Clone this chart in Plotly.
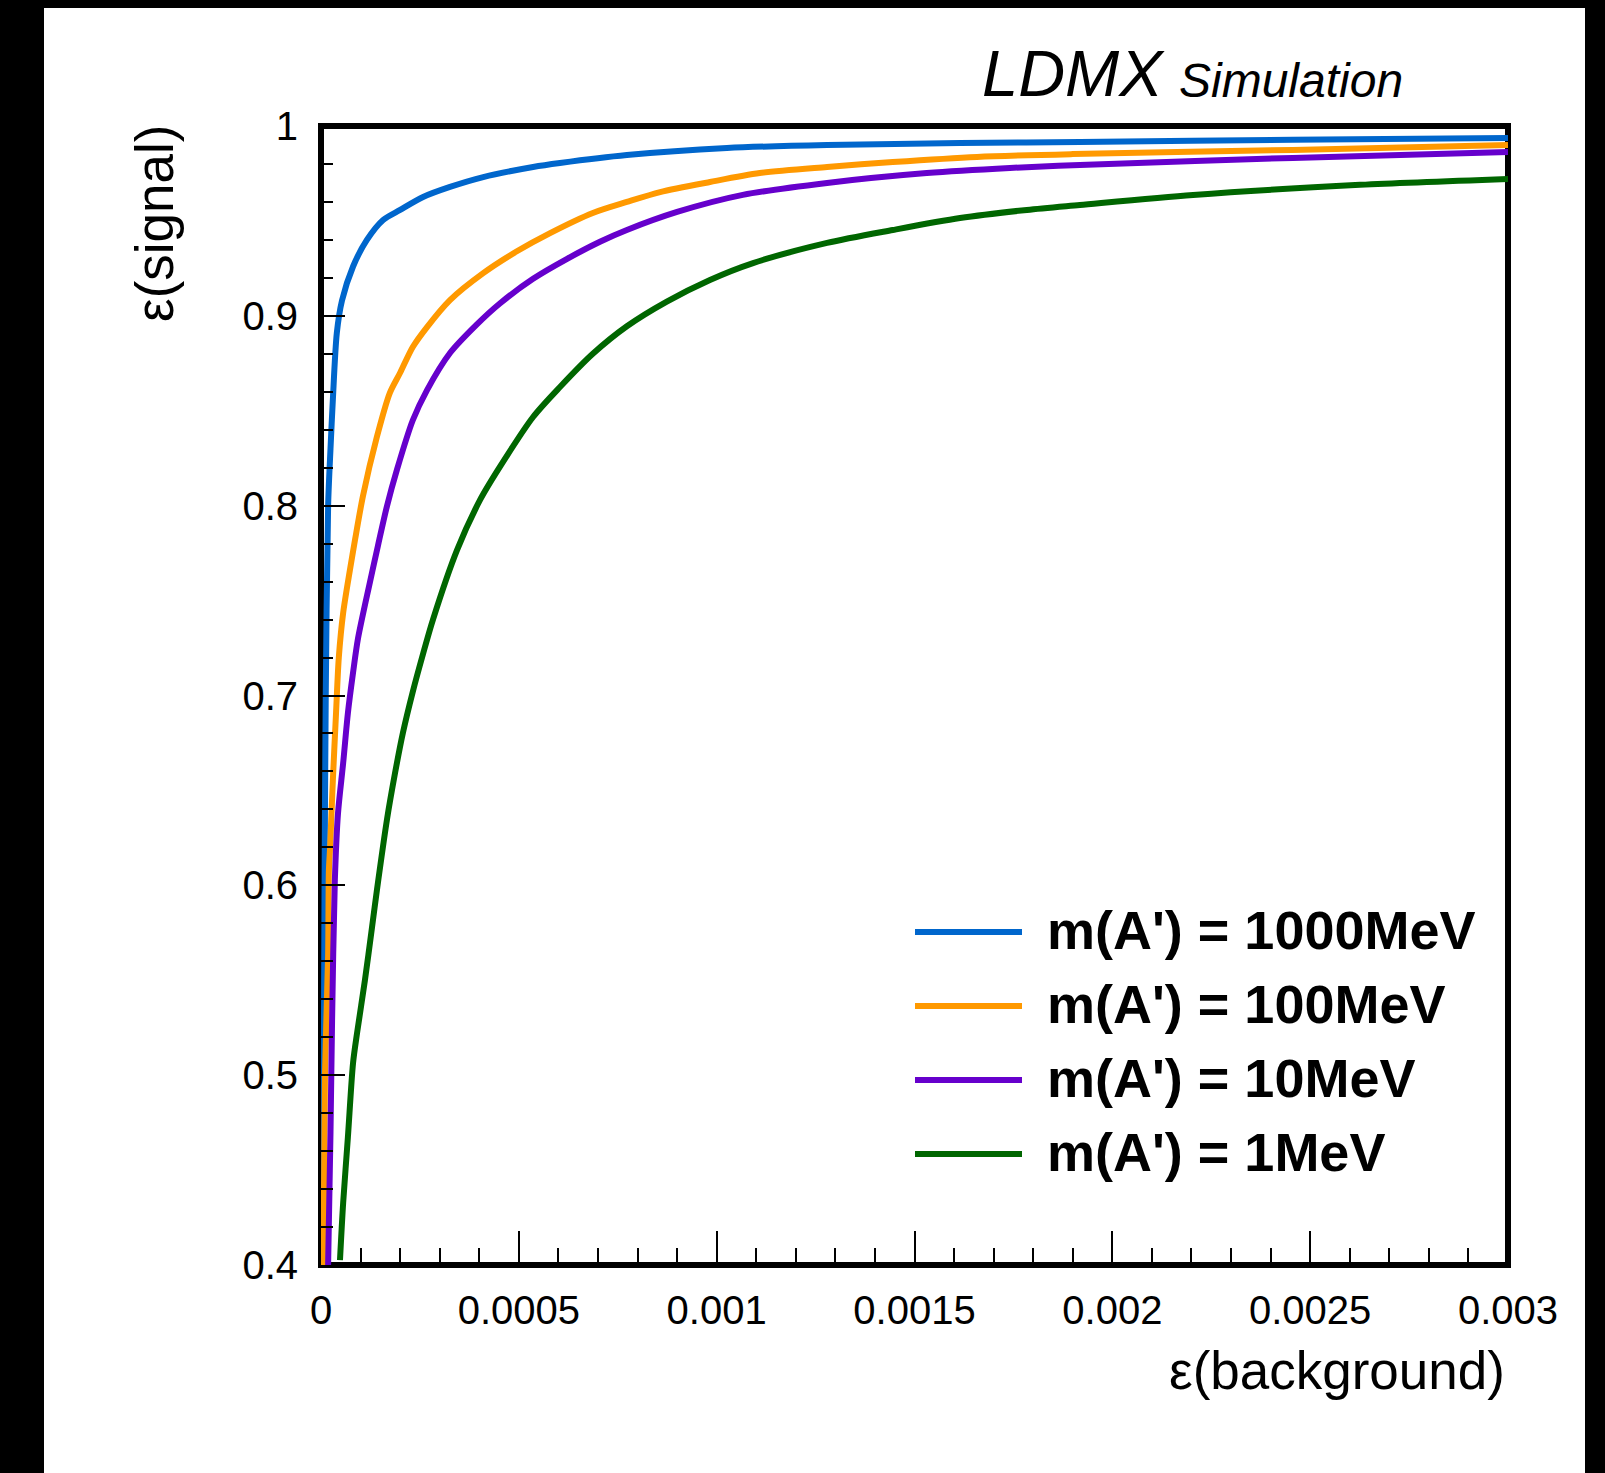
import plotly.graph_objects as go

# ---------------- data ----------------
series_names = ["m(A') = 1000MeV", "m(A') = 100MeV", "m(A') = 10MeV", "m(A') = 1MeV"]
series_colors = ["#0066CC", "#FF9900", "#6600CC", "#006600"]

bkg_1000 = [0.000005, 0.000007, 0.000009, 0.000012, 0.000018, 0.000024, 0.000030, 0.000040,
            0.000053, 0.000081, 0.000116, 0.000157, 0.000200, 0.000258, 0.000326, 0.000410,
            0.000536, 0.000604, 0.000773, 0.001026, 0.001279, 0.001615, 0.001918, 0.002456, 0.003000]
sig_1000 = [0.400, 0.500, 0.600, 0.700, 0.800, 0.830, 0.856, 0.891,
            0.908, 0.926, 0.940, 0.9505, 0.9558, 0.9626, 0.9679, 0.9731,
            0.9784, 0.9805, 0.9847, 0.9884, 0.9900, 0.9910, 0.9916, 0.9928, 0.9937]

bkg_100 = [0.000006, 0.000010, 0.000018, 0.000020, 0.000023, 0.000030, 0.000038, 0.000045,
           0.000056, 0.000073, 0.000086, 0.000106, 0.000141, 0.000174, 0.000200, 0.000232,
           0.000268, 0.000326, 0.000410, 0.000495, 0.000579, 0.000687, 0.000773, 0.000857,
           0.000983, 0.001109, 0.001279, 0.001445, 0.001658, 0.001900, 0.002456, 0.003000]
sig_100 = [0.400, 0.500, 0.563, 0.608, 0.620, 0.6555, 0.6908, 0.720,
           0.7435, 0.766, 0.782, 0.805, 0.836, 0.8594, 0.870, 0.8836,
           0.8941, 0.9083, 0.9225, 0.9340, 0.9436, 0.9542, 0.9600, 0.9652,
           0.9705, 0.9752, 0.9784, 0.9810, 0.9837, 0.9852, 0.9874, 0.9900]

bkg_10 = [0.000018, 0.000024, 0.000028, 0.000035, 0.000043, 0.000056, 0.000068, 0.000081,
          0.0000935, 0.000124, 0.000144, 0.000167, 0.000192, 0.000232, 0.000268, 0.000326,
          0.000394, 0.000452, 0.000536, 0.000622, 0.000705, 0.000773, 0.000900, 0.001066,
          0.001279, 0.001531, 0.001741, 0.001918, 0.002456, 0.003000]
sig_10 = [0.400, 0.470, 0.529, 0.6028, 0.638, 0.6644, 0.6908, 0.712,
          0.730, 0.760, 0.779, 0.800, 0.8190, 0.8450, 0.8609, 0.8804,
          0.8955, 0.9065, 0.9195, 0.9300, 0.9390, 0.9452, 0.9547, 0.9637,
          0.9700, 0.9752, 0.9779, 0.9795, 0.9832, 0.9863]

bkg_1 = [0.000048, 0.000056, 0.000068, 0.000081, 0.000091, 0.000111, 0.000129, 0.000141,
         0.000167, 0.000187, 0.000207, 0.000232, 0.000258, 0.000283, 0.000344, 0.000402,
         0.000452, 0.000536, 0.000604, 0.000687, 0.000773, 0.000874, 0.000983, 0.001092,
         0.001279, 0.001445, 0.001615, 0.001784, 0.001918, 0.002204, 0.002626, 0.003000]
sig_1 = [0.4026, 0.4327, 0.4674, 0.5064, 0.522, 0.550, 0.578, 0.597,
         0.635, 0.6590, 0.6803, 0.7020, 0.7220, 0.7400, 0.7767, 0.803,
         0.8204, 0.8467, 0.8625, 0.8800, 0.8945, 0.9075, 0.9189, 0.9278,
         0.9384, 0.9452, 0.9515, 0.9558, 0.9584, 0.9637, 0.9690, 0.9721]

x_tick_vals = [0, 0.0005, 0.001, 0.0015, 0.002, 0.0025, 0.003]
x_tick_labels = ["0", "0.0005", "0.001", "0.0015", "0.002", "0.0025", "0.003"]
y_tick_vals = [0.4, 0.5, 0.6, 0.7, 0.8, 0.9, 1.0]
y_tick_labels = ["0.4", "0.5", "0.6", "0.7", "0.8", "0.9", "1"]

x_title = "ε(background)"
y_title = "ε(signal)"
exp_label = "LDMX"
sub_label = "Simulation"

# ---------------- layout geometry ----------------
OFF = 8                      # default page (body) margin around the figure
PAGE_W, PAGE_H = 1605, 1473
W, H = PAGE_W - OFF, PAGE_H - OFF
# plot-area edges in page pixels
PL, PR, PT, PB = 321, 1508, 126, 1265
L, R, T, B = PL - OFF, PR - OFF, PT - OFF, PB - OFF


def px2x(px):   # page pixel -> paper x
    return (px - OFF - L) / (R - L)


def py2y(py):   # page pixel -> paper y
    return (B - (py - OFF)) / (B - T)


FONT = "Liberation Sans, Arial, Helvetica, sans-serif"

fig = go.Figure()
all_x = [bkg_1000, bkg_100, bkg_10, bkg_1]
all_y = [sig_1000, sig_100, sig_10, sig_1]
for xs, ys, name, col in zip(all_x, all_y, series_names, series_colors):
    fig.add_trace(go.Scatter(x=xs, y=ys, mode="lines", name=name,
                             line=dict(color=col, width=6, shape="spline", smoothing=0.8),
                             showlegend=False))

shapes = []
# black border strips of the picture
shapes.append(dict(type="rect", xref="paper", yref="paper", x0=px2x(OFF), x1=px2x(44),
                   y0=py2y(PAGE_H), y1=py2y(OFF), fillcolor="black", line=dict(width=0),
                   layer="above"))
shapes.append(dict(type="rect", xref="paper", yref="paper", x0=px2x(1585), x1=px2x(PAGE_W),
                   y0=py2y(PAGE_H), y1=py2y(OFF), fillcolor="black", line=dict(width=0),
                   layer="above"))
# frame
shapes.append(dict(type="rect", xref="paper", yref="paper", x0=0, x1=1, y0=0, y1=1,
                   line=dict(color="black", width=6), fillcolor="rgba(0,0,0,0)", layer="below"))

annotations = []
# legend (drawn manually to match long ROOT-style line samples)
leg_rows = [932, 1006, 1080, 1154]
for name, col, ry in zip(series_names, series_colors, leg_rows):
    shapes.append(dict(type="line", xref="paper", yref="paper", x0=px2x(915), x1=px2x(1022),
                       y0=py2y(ry), y1=py2y(ry), line=dict(color=col, width=6)))
    annotations.append(dict(xref="paper", yref="paper", x=px2x(1045), y=py2y(ry - 2),
                            xanchor="left", yanchor="middle", showarrow=False,
                            text="<b>" + name + "</b>",
                            font=dict(family=FONT, size=54, color="black")))

# LDMX Simulation label
annotations.append(dict(xref="paper", yref="paper", x=px2x(1167), y=py2y(74),
                        xanchor="right", yanchor="middle", showarrow=False,
                        text="<i>" + exp_label + "</i>",
                        font=dict(family=FONT, size=65, color="black")))
annotations.append(dict(xref="paper", yref="paper", x=px2x(1177), y=py2y(80),
                        xanchor="left", yanchor="middle", showarrow=False,
                        text="<i>" + sub_label + "</i>",
                        font=dict(family=FONT, size=48, color="black")))
# axis titles
annotations.append(dict(xref="paper", yref="paper", x=px2x(1337), y=py2y(1370),
                        xanchor="center", yanchor="middle", showarrow=False, text=x_title,
                        font=dict(family=FONT, size=53, color="black")))
annotations.append(dict(xref="paper", yref="paper", x=px2x(155), y=py2y(224),
                        xanchor="center", yanchor="middle", showarrow=False, text=y_title,
                        textangle=-90, font=dict(family=FONT, size=53, color="black")))

fig.update_layout(
    width=W, height=H, autosize=False,
    margin=dict(l=L, r=W - R, t=T, b=H - B, pad=0),
    paper_bgcolor="white", plot_bgcolor="white",
    shapes=shapes, annotations=annotations,
    font=dict(family=FONT, color="black"),
    xaxis=dict(range=[0, 0.003], showgrid=False, zeroline=False, showline=False,
               tickmode="array", tickvals=x_tick_vals, ticktext=x_tick_labels,
               ticks="inside", ticklen=34, tickwidth=2, tickcolor="black",
               tickfont=dict(family=FONT, size=40, color="black"), ticklabelstandoff=18,
               minor=dict(tickmode="linear", tick0=0, dtick=0.0001, ticks="inside",
                          ticklen=17, tickwidth=2, tickcolor="black", showgrid=False)),
    yaxis=dict(range=[0.4, 1.0], showgrid=False, zeroline=False, showline=False,
               tickmode="array", tickvals=y_tick_vals, ticktext=y_tick_labels,
               ticks="inside", ticklen=24, tickwidth=2, tickcolor="black",
               tickfont=dict(family=FONT, size=40, color="black"), ticklabelstandoff=22,
               minor=dict(tickmode="linear", tick0=0.4, dtick=0.02, ticks="inside",
                          ticklen=12, tickwidth=2, tickcolor="black", showgrid=False)),
)

fig.write_html("out.html",
               post_script="document.body.style.backgroundColor='black';")
